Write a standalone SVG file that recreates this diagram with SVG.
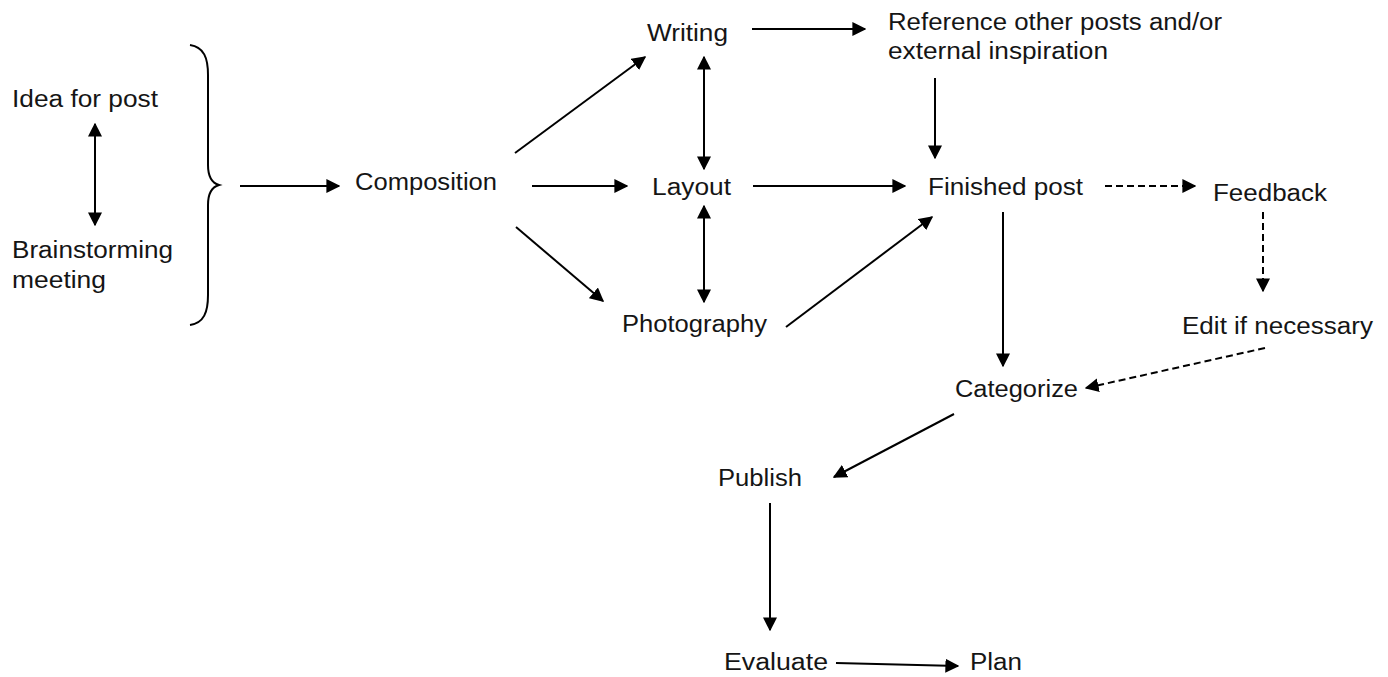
<svg xmlns="http://www.w3.org/2000/svg" width="1388" height="677" viewBox="0 0 1388 677">
<style>
text{font-family:"Liberation Sans",Arial,sans-serif;font-size:23px;fill:#151515}
.c{stroke:#000;stroke-width:2;fill:none}
.d{stroke-dasharray:7 4}
</style>
<defs>
<marker id="a" viewBox="0 0 10 10" refX="9" refY="5" markerWidth="7" markerHeight="7" orient="auto-start-reverse" markerUnits="strokeWidth">
<path d="M0,0 L10,5 L0,10 z" fill="#000"/>
</marker>
</defs>
<rect width="1388" height="677" fill="#fff"/>
<g id="n-idea"><text x="12" y="107" textLength="146" lengthAdjust="spacingAndGlyphs">Idea for post</text></g>
<g id="n-brain"><text x="12" y="258" textLength="161" lengthAdjust="spacingAndGlyphs">Brainstorming</text><text x="12" y="288" textLength="94" lengthAdjust="spacingAndGlyphs">meeting</text></g>
<g id="brace"><path class="c" d="M190,45 C204,47 208,58 208,75 L208,165 C208,177 212,183 219,185 C212,187 208,193 208,205 L208,295 C208,312 204,323 190,325" stroke-width="1.6"/></g>
<g id="n-comp"><text x="355" y="190" textLength="142" lengthAdjust="spacingAndGlyphs">Composition</text></g>
<g id="n-writing"><text x="647" y="41" textLength="81" lengthAdjust="spacingAndGlyphs">Writing</text></g>
<g id="n-ref"><text x="888" y="30" textLength="334" lengthAdjust="spacingAndGlyphs">Reference other posts and/or</text><text x="888" y="59" textLength="220" lengthAdjust="spacingAndGlyphs">external inspiration</text></g>
<g id="n-layout"><text x="652" y="195" textLength="79" lengthAdjust="spacingAndGlyphs">Layout</text></g>
<g id="n-finished"><text x="928" y="195" textLength="155" lengthAdjust="spacingAndGlyphs">Finished post</text></g>
<g id="n-feedback"><text x="1213" y="201" textLength="114" lengthAdjust="spacingAndGlyphs">Feedback</text></g>
<g id="n-photo"><text x="622" y="332" textLength="145" lengthAdjust="spacingAndGlyphs">Photography</text></g>
<g id="n-edit"><text x="1182" y="334" textLength="191" lengthAdjust="spacingAndGlyphs">Edit if necessary</text></g>
<g id="n-cat"><text x="955" y="397" textLength="123" lengthAdjust="spacingAndGlyphs">Categorize</text></g>
<g id="n-publish"><text x="718" y="486" textLength="84" lengthAdjust="spacingAndGlyphs">Publish</text></g>
<g id="n-eval"><text x="724" y="670" textLength="104" lengthAdjust="spacingAndGlyphs">Evaluate</text></g>
<g id="n-plan"><text x="970" y="670" textLength="52" lengthAdjust="spacingAndGlyphs">Plan</text></g>
<g id="connectors">
<line class="c" x1="95" y1="124" x2="95" y2="225" marker-start="url(#a)" marker-end="url(#a)"/>
<line class="c" x1="240" y1="186" x2="339" y2="186" marker-end="url(#a)"/>
<line class="c" x1="515" y1="153" x2="645" y2="57" marker-end="url(#a)"/>
<line class="c" x1="532" y1="186" x2="627" y2="186" marker-end="url(#a)"/>
<line class="c" x1="516" y1="227" x2="603" y2="301" marker-end="url(#a)"/>
<line class="c" x1="752" y1="29" x2="865" y2="29" marker-end="url(#a)"/>
<line class="c" x1="704" y1="57" x2="704" y2="169" marker-start="url(#a)" marker-end="url(#a)"/>
<line class="c" x1="704" y1="206" x2="704" y2="302" marker-start="url(#a)" marker-end="url(#a)"/>
<line class="c" x1="753" y1="186" x2="905" y2="186" marker-end="url(#a)"/>
<line class="c" x1="935" y1="78" x2="935" y2="158" marker-end="url(#a)"/>
<line class="c" x1="786" y1="327" x2="932" y2="217" marker-end="url(#a)"/>
<line class="c d" x1="1105" y1="186" x2="1195" y2="186" marker-end="url(#a)"/>
<line class="c d" x1="1263" y1="212" x2="1263" y2="291" marker-end="url(#a)"/>
<line class="c d" x1="1265" y1="348" x2="1086" y2="388" stroke-width="1.5" marker-end="url(#a)"/>
<line class="c" x1="1003" y1="212" x2="1003" y2="366" marker-end="url(#a)"/>
<line class="c" x1="954" y1="414" x2="834" y2="477" marker-end="url(#a)"/>
<line class="c" x1="770" y1="503" x2="770" y2="630" marker-end="url(#a)"/>
<line class="c" x1="836" y1="663" x2="958" y2="666" marker-end="url(#a)"/>
</g>
</svg>
